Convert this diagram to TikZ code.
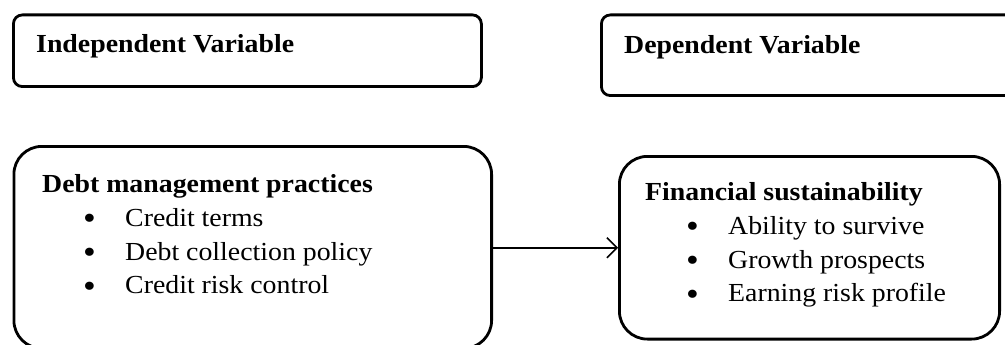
\documentclass[tikz,border=0pt]{standalone}
\usepackage{fontspec}
\setmainfont{Liberation Serif}[FakeStretch=1.07]
\usepackage{tikz}
\usetikzlibrary{arrows.meta,positioning}
\newcommand{\itemline}[1]{\hspace*{41pt}\makebox[42pt][l]{\raisebox{-3.5pt}{\fontsize{34pt}{0pt}\selectfont\textbullet}}#1}
\tikzstyle{arrow} = [line width=1.5pt,-{Straight Barb[length=10pt,width=20pt,line width=1.5pt]}]
\tikzstyle{varbox} = [rectangle, draw, line width=2.8pt, rounded corners=9pt, anchor=north west]
\tikzstyle{factorbox} = [rectangle, draw, line width=2.8pt, rounded corners=28pt, anchor=north west]
\tikzstyle{boxtext} = [inner sep=0pt, align=left, font=\fontsize{26pt}{33.7pt}\selectfont]

\begin{document}
\begin{tikzpicture}[x=1pt,y=-1pt]
\useasboundingbox (0,0) rectangle (1005,345);
\clip (0,0) rectangle (1005,345);

% Variable headers
\node[varbox, minimum width=468pt, minimum height=71.7pt] (indepbox) at (12,13.5) {};
\node[boxtext, below right=39.5pt and 24pt of indepbox.north west, anchor=base west] (indep) {\textbf{Independent Variable}};
\node[varbox, minimum width=417pt, minimum height=80.7pt] (depbox) at (600,13.5) {};
\node[boxtext, below right=40.5pt and 24pt of depbox.north west, anchor=base west] (dep) {\textbf{Dependent Variable}};

% Debt management practices
\node[factorbox, minimum width=477.7pt, minimum height=202pt] (debtbox) at (12.5,145) {};
\node[boxtext, below right=29.5pt and 29.5pt of debtbox.north west] (debt) {\textbf{Debt management practices}\\
  \itemline{Credit terms}\\
  \itemline{Debt collection policy}\\
  \itemline{Credit risk control}};

% Financial sustainability
\node[factorbox, minimum width=380.2pt, minimum height=182.7pt] (finbox) at (618,155) {};
\node[boxtext, below right=27.5pt and 27pt of finbox.north west] (fin) {\textbf{Financial sustainability}\\
  \itemline{Ability to survive}\\
  \itemline{Growth prospects}\\
  \itemline{Earning risk profile}};

% Arrow
\draw[arrow] (debtbox.east |- finbox.west) -- (finbox.west);
\end{tikzpicture}
\end{document}
